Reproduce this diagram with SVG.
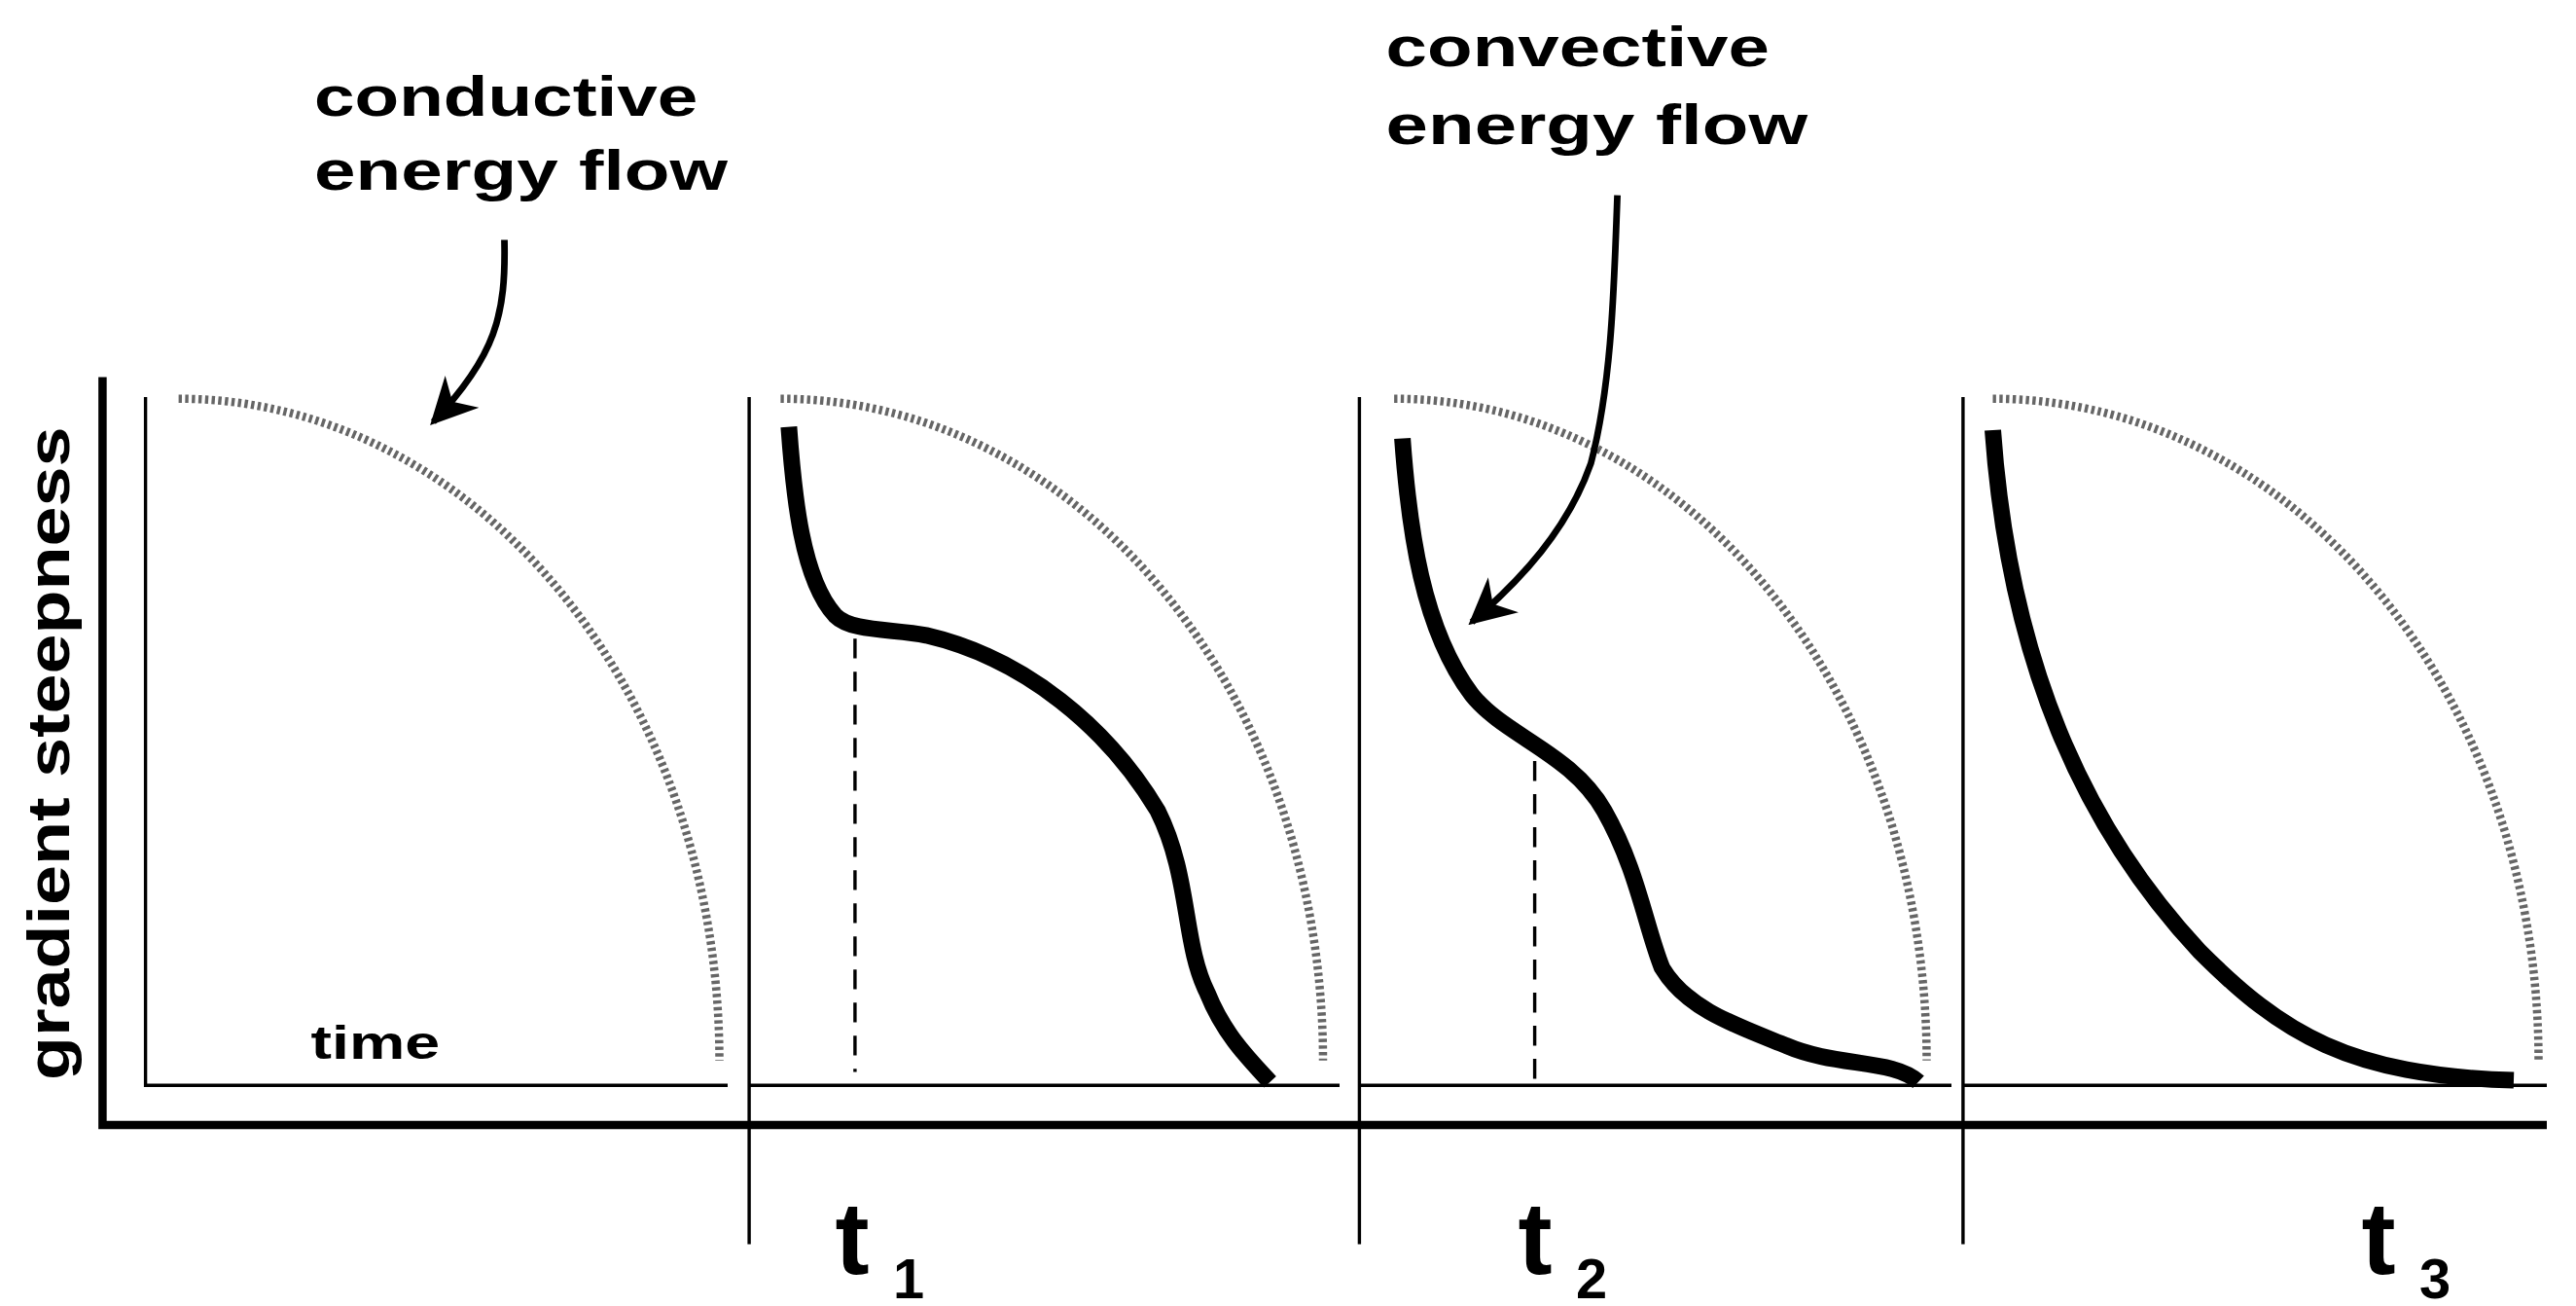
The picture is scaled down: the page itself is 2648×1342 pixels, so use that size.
<svg xmlns="http://www.w3.org/2000/svg" width="2648" height="1342" viewBox="0 0 2648 1342">
<style>
.t{font-family:"Liberation Sans",Arial,sans-serif;font-weight:bold;fill:#000}
.ax{stroke:#000;fill:none}
.dot{stroke:#666;stroke-width:5;stroke-dasharray:2 2;fill:none}
.thick{stroke:#000;stroke-width:10;fill:none;stroke-linejoin:round}
.dash{stroke:#000;stroke-width:2;stroke-dasharray:12 8;fill:none}
.arr{stroke:#000;stroke-width:4;fill:none}
</style>
<defs>
<marker id="ah" viewBox="0 0 10 10" refX="9" refY="5" markerWidth="7" markerHeight="7" orient="auto"><path d="M0,0 L10,5 L0,10 L3,5 z" fill="#000"/></marker>
</defs>
<rect width="2648" height="1342" fill="#fff"/>
<g transform="scale(1.7)">
<g id="axes">
<path class="ax" stroke-width="5" d="M62,228 V680 H1540"/>
<path class="ax" stroke-width="2" d="M88,240 V656 H440"/>
<path class="ax" stroke-width="2" d="M453,240 V752 M453,656 H810"/>
<path class="ax" stroke-width="2" d="M822,240 V752 M822,656 H1180"/>
<path class="ax" stroke-width="2" d="M1187,240 V752 M1187,656 H1540"/>
</g>
<g id="dotted">
<path class="dot" d="M108,241 A327,400 0 0 1 435,641"/>
<path class="dot" d="M472,241 A328,400 0 0 1 800,641"/>
<path class="dot" d="M843,241 A322,400 0 0 1 1165,641"/>
<path class="dot" d="M1205,241 A330,400 0 0 1 1535,641"/>
</g>
<g id="curves">
<path class="thick" d="M477,258 C480,300 485,350 505,372 C515,382 540,380 560,384 C620,398 670,440 700,490 C720,530 715,570 730,600 C740,625 755,640 768,654"/>
<path class="dash" d="M517,386 V648"/>
<path class="thick" d="M848,265 C852,320 860,380 890,420 C910,445 950,455 970,490 C990,525 995,560 1005,585 C1020,610 1050,620 1080,632 C1110,645 1145,640 1160,654"/>
<path class="dash" d="M928,460 V655"/>
<path class="thick" d="M1205,260 C1215,400 1260,500 1330,575 C1380,625 1420,650 1520,653"/>
</g>
<g id="connectors">
<path class="arr" d="M305,145 C306,190 300,215 262,255" marker-end="url(#ah)"/>
<path class="arr" d="M978,118 C976,170 975,230 962,280 C948,320 920,350 890,376" marker-end="url(#ah)"/>
</g>
<g id="labels">
<text class="t" x="190" y="70" font-size="34" textLength="232" lengthAdjust="spacingAndGlyphs">conductive</text>
<text class="t" x="190" y="115" font-size="34" textLength="250" lengthAdjust="spacingAndGlyphs">energy flow</text>
<text class="t" x="838" y="40" font-size="34" textLength="232" lengthAdjust="spacingAndGlyphs">convective</text>
<text class="t" x="838" y="87" font-size="34" textLength="255" lengthAdjust="spacingAndGlyphs">energy flow</text>
<text class="t" x="188" y="640" font-size="28" textLength="78" lengthAdjust="spacingAndGlyphs">time</text>
<text class="t" font-size="36" transform="translate(42,258) rotate(-90)" text-anchor="end" textLength="395" lengthAdjust="spacingAndGlyphs">gradient steepness</text>
<text class="t" x="505" y="770" font-size="62">t</text><text class="t" x="540" y="785" font-size="34">1</text>
<text class="t" x="918" y="770" font-size="62">t</text><text class="t" x="953" y="785" font-size="34">2</text>
<text class="t" x="1428" y="770" font-size="62">t</text><text class="t" x="1463" y="785" font-size="34">3</text>
</g>
</g>
</svg>
